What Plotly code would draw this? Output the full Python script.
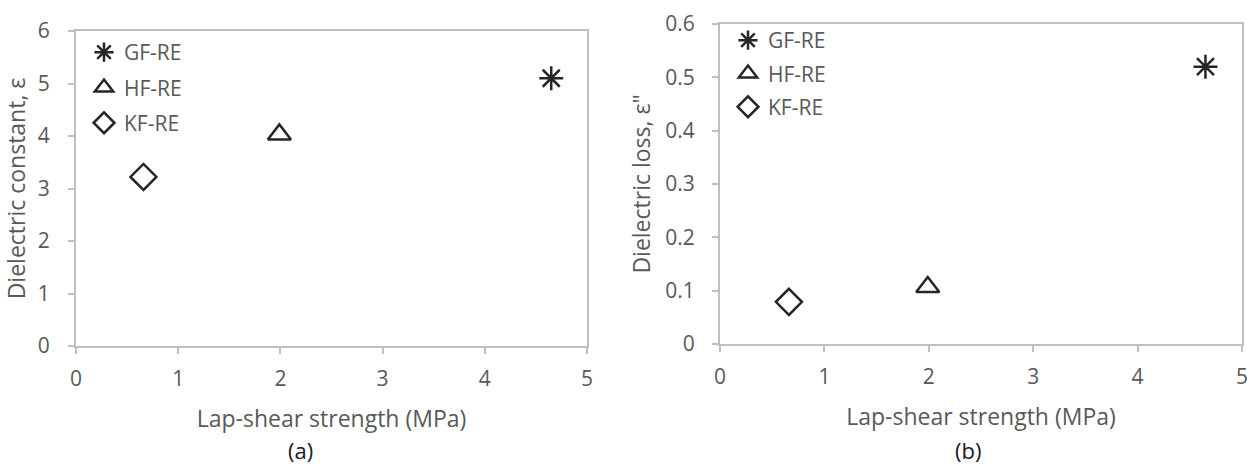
import plotly.graph_objects as go

# Data
series = ["GF-RE", "HF-RE", "KF-RE"]
lap_shear = [4.65, 1.99, 0.66]
dielectric_constant = [5.10, 4.03, 3.22]
dielectric_loss = [0.52, 0.107, 0.079]
symbols = ["asterisk-open", "triangle-up-open", "diamond-open"]

x_ticks = [0, 1, 2, 3, 4, 5]
y1_ticks = [0, 1, 2, 3, 4, 5, 6]
y2_ticks = [0, 0.1, 0.2, 0.3, 0.4, 0.5, 0.6]
y2_labels = ["0", "0.1", "0.2", "0.3", "0.4", "0.5", "0.6"]

FONT = "Open Sans"
GRAY = "#595959"
AX = "#bfbfbf"
MK = "#262626"

fig = go.Figure()
for i, name in enumerate(series):
    fig.add_trace(go.Scatter(
        x=[lap_shear[i]], y=[dielectric_constant[i]], mode="markers", name=name,
        marker=dict(symbol=symbols[i], size=20, color=MK, line=dict(color=MK, width=2.5)),
        xaxis="x", yaxis="y", legend="legend", legendgroup="a" + name,
    ))
for i, name in enumerate(series):
    fig.add_trace(go.Scatter(
        x=[lap_shear[i]], y=[dielectric_loss[i]], mode="markers", name=name,
        marker=dict(symbol=symbols[i], size=20, color=MK, line=dict(color=MK, width=2.5)),
        xaxis="x2", yaxis="y2", legend="legend2", legendgroup="b" + name,
    ))

axis_common = dict(
    showline=True, linecolor=AX, linewidth=2, mirror=True,
    ticks="outside", ticklen=6, tickcolor=AX, tickwidth=2,
    showgrid=False, zeroline=False, automargin=False,
    ticklabeloverflow="allow",
    tickfont=dict(family=FONT, size=21, color=GRAY),
)
title_font = dict(family=FONT, size=23, color=GRAY)
legend_font = dict(family=FONT, size=21, color=GRAY)

fig.update_layout(
    width=1247, height=464,
    margin=dict(l=0, r=0, t=0, b=0, autoexpand=False),
    paper_bgcolor="white", plot_bgcolor="white",
    font=dict(family=FONT, color=GRAY),
    xaxis=dict(domain=[76 / 1247, 587 / 1247], range=[0, 5], tickvals=x_ticks,
               ticklabelstandoff=7,
               title=dict(text="Lap-shear strength (MPa)", font=title_font, standoff=20),
               anchor="y", **axis_common),
    yaxis=dict(domain=[(464 - 346) / 464, (464 - 31) / 464], range=[0, 6], tickvals=y1_ticks,
               ticklabelstandoff=14,
               title=dict(text="Dielectric constant, ε", font=title_font, standoff=6),
               anchor="x", **axis_common),
    xaxis2=dict(domain=[720 / 1247, 1242 / 1247], range=[0, 5], tickvals=x_ticks,
                ticklabelstandoff=7,
                title=dict(text="Lap-shear strength (MPa)", font=title_font, standoff=20),
                anchor="y2", **axis_common),
    yaxis2=dict(domain=[(464 - 344) / 464, (464 - 24) / 464], range=[0, 0.6], tickvals=y2_ticks,
                ticktext=y2_labels, ticklabelstandoff=13,
                title=dict(text="Dielectric loss, ε\"", font=title_font, standoff=8),
                anchor="x2", **axis_common),
    legend=dict(x=84 / 1247, y=(464 - 32) / 464, xanchor="left", yanchor="top",
                bgcolor="rgba(0,0,0,0)", font=legend_font,
                traceorder="grouped", tracegroupgap=5, itemwidth=30),
    legend2=dict(x=728 / 1247, y=(464 - 20) / 464, xanchor="left", yanchor="top",
                 bgcolor="rgba(0,0,0,0)", font=legend_font,
                 traceorder="grouped", tracegroupgap=3, itemwidth=30),
    annotations=[
        dict(text="(a)", x=300 / 1247, y=(464 - 450) / 464, xref="paper", yref="paper",
             xanchor="center", yanchor="middle",
             showarrow=False, font=dict(family=FONT, size=22, color="#1a1a1a")),
        dict(text="(b)", x=968 / 1247, y=(464 - 450) / 464, xref="paper", yref="paper",
             xanchor="center", yanchor="middle",
             showarrow=False, font=dict(family=FONT, size=22, color="#1a1a1a")),
    ],
)

fig.write_html("out.html")
